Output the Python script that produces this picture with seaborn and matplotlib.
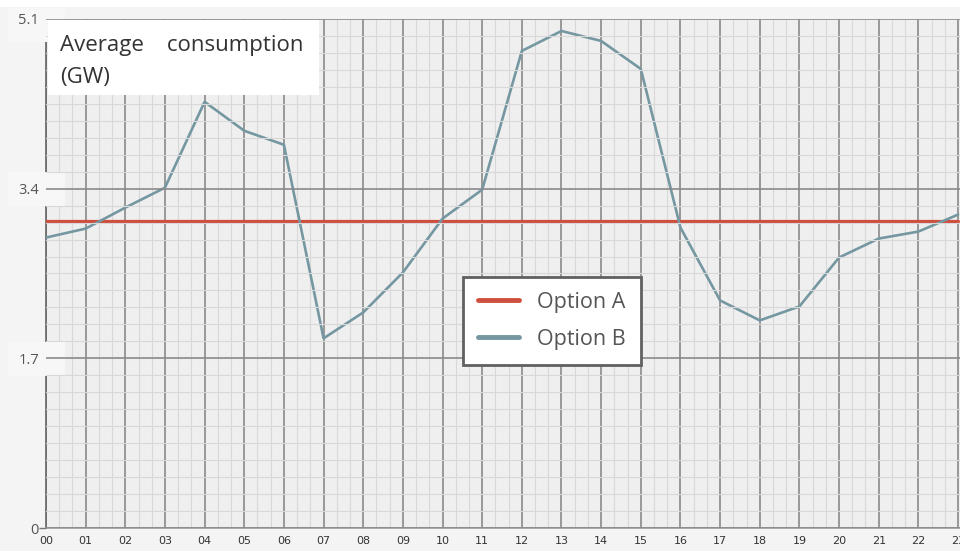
import numpy as np
import pandas as pd
import matplotlib
matplotlib.use("Agg")
import matplotlib.pyplot as plt
from matplotlib.patches import Rectangle
from matplotlib.ticker import MultipleLocator
import seaborn as sns

hours = [f"{h:02d}" for h in range(24)]
option_a = [3.08] * 24
option_b = [2.91, 3.00, 3.21, 3.41, 4.27, 3.98, 3.84, 1.90, 2.16, 2.56, 3.10, 3.39,
            4.78, 4.98, 4.88, 4.60, 3.01, 2.28, 2.08, 2.22, 2.71, 2.90, 2.97, 3.14]
y_ticks = [0, 1.7, 3.4, 5.1]
y_labels = ["0", "1.7", "3.4", "5.1"]
series_names = ["Option A", "Option B"]

df = pd.DataFrame({
    "hour": list(range(24)) * 2,
    "value": option_a + option_b,
    "series": [series_names[0]] * 24 + [series_names[1]] * 24,
})

sns.set_style("white")
plt.rcParams["font.family"] = ["Open Sans", "DejaVu Sans"]

fig = plt.figure(figsize=(9.6, 5.51), dpi=100, facecolor="#f4f4f4")
ax = fig.add_axes([46 / 960, 1 - 528 / 551, 914 / 960, (528 - 19) / 551])
ax.set_facecolor("#efefef")

# white strip at top
fig.patches.append(Rectangle((0, 1 - 7 / 551), 1, 7 / 551, transform=fig.transFigure,
                             facecolor="white", edgecolor="none", zorder=0))

palette = {"Option A": "#cf4f3f", "Option B": "#7597a1"}
sns.lineplot(data=df, x="hour", y="value", hue="series", palette=palette, ax=ax,
             legend=False, zorder=5)
lines = ax.get_lines()
lines[0].set_linewidth(2.3)
lines[1].set_linewidth(1.9)

ax.set_xlim(0, 23.05)
ax.set_ylim(0, 5.1)
ax.set_xticks(range(24))
ax.set_xticklabels(hours, fontsize=8, color="#333333", family=["DejaVu Sans"])
ax.set_yticks(y_ticks)
ax.set_yticklabels(y_labels, fontsize=10.5, color="#555555")
ax.xaxis.set_minor_locator(MultipleLocator(1 / 3))
ax.yaxis.set_minor_locator(MultipleLocator(0.17))
ax.tick_params(axis="x", length=0, pad=6)
ax.tick_params(axis="y", which="major", length=5, color="#777777", width=1, pad=0, left=True)
ax.tick_params(axis="y", which="minor", length=0)
for t in ax.yaxis.get_major_ticks()[1:]:
    t.tick1line.set_visible(False)
ax.grid(which="major", color="#8a8a8a", linewidth=1.2)
ax.grid(which="minor", color="#d8d8d8", linewidth=0.8)
ax.set_axisbelow(True)
for s in ["top", "right"]:
    ax.spines[s].set_visible(False)
ax.spines["left"].set_color("#666666")
ax.spines["left"].set_linewidth(1.2)
ax.spines["bottom"].set_color("#9a9a9a")
ax.spines["bottom"].set_linewidth(1.2)
ax.spines["left"].set_zorder(2)
ax.set_xlabel("")
ax.set_ylabel("")

# pale boxes behind the upper y tick labels (drawn in axes, unclipped)
for ypix in [189, 359, 25]:
    ax.add_patch(Rectangle((8 / 960, 1 - (ypix + 17) / 551), 57 / 960, 34 / 551,
                           transform=fig.transFigure, facecolor="#f7f7f7",
                           edgecolor="none", zorder=3, clip_on=False))
ax.yaxis.set_zorder(10)

# title box
ax.add_patch(Rectangle((48 / 960, 1 - 95 / 551), 271 / 960, (95 - 20) / 551,
                       transform=fig.transFigure, facecolor="white",
                       edgecolor="none", zorder=11, clip_on=False))
ax.text(60 / 960, 1 - 46 / 551, "Average    consumption", fontsize=16,
        color="#333333", va="center", ha="left", zorder=12, transform=fig.transFigure)
ax.text(60 / 960, 1 - 77 / 551, "(GW)", fontsize=16,
        color="#333333", va="center", ha="left", zorder=12, transform=fig.transFigure)

handles = [plt.Line2D([], [], color=palette[n], linewidth=3.5) for n in series_names]
leg = ax.legend(handles, series_names, loc="upper left", bbox_to_anchor=(0.456, 0.494),
                frameon=True, fancybox=False, fontsize=15.5, handlelength=1.9,
                handletextpad=0.85, labelspacing=0.75, borderpad=0.7,
                borderaxespad=0, labelcolor="#555555")
leg.get_frame().set_edgecolor("#606060")
leg.get_frame().set_linewidth(2)
leg.get_frame().set_facecolor("white")
leg.get_frame().set_alpha(1)
leg.set_zorder(20)

fig.savefig("out.png", dpi=100, facecolor=fig.get_facecolor())
